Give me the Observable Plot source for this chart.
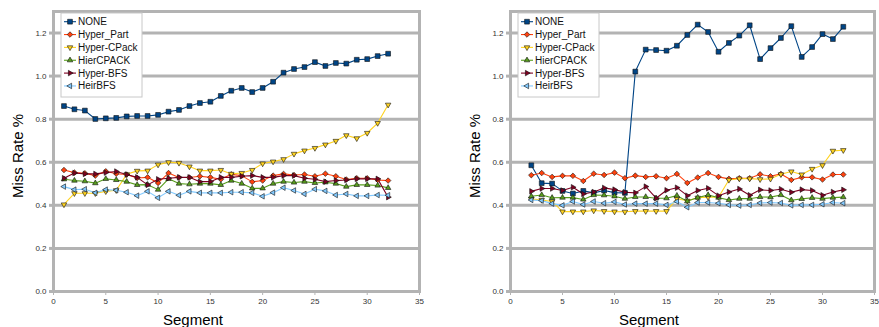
<!DOCTYPE html>
<html>
<head>
<meta charset="utf-8">
<script src="https://cdn.jsdelivr.net/npm/d3@7"></script>
<script src="https://cdn.jsdelivr.net/npm/@observablehq/plot@0.6"></script>
<style>
  html, body { margin: 0; padding: 0; background: #fff; }
  #wrap { display: flex; width: 879px; height: 327px; overflow: hidden; }
  .panel { position: relative; }
</style>
</head>
<body>
<div id="wrap"><div class="panel" id="left"></div><div class="panel" id="right"></div></div>
<script>
// ---- data ----
const seriesNames = ["NONE", "Hyper_Part", "Hyper-CPack", "HierCPACK", "Hyper-BFS", "HeirBFS"];
const seriesColors = ["#004586", "#ff420e", "#ffd320", "#579d1c", "#7e0021", "#83caff"];
const seriesSymbols = ["square", "diamond2", "triangle", "triangle", "triangle", "triangle"];
const seriesRotate = [0, 0, 180, 0, 90, -90];

const xTicks = [0, 5, 10, 15, 20, 25, 30, 35];
const yTicks = [0, 0.2, 0.4, 0.6, 0.8, 1.0, 1.2];

const segmentsLeft = [1,2,3,4,5,6,7,8,9,10,11,12,13,14,15,16,17,18,19,20,21,22,23,24,25,26,27,28,29,30,31,32];
const noneLeft  = [0.861,0.846,0.840,0.801,0.804,0.806,0.813,0.815,0.815,0.820,0.835,0.843,0.861,0.875,0.881,0.908,0.932,0.945,0.926,0.945,0.974,1.016,1.033,1.042,1.065,1.047,1.061,1.058,1.076,1.079,1.093,1.104];
const partLeft  = [0.564,0.552,0.549,0.538,0.558,0.547,0.543,0.527,0.530,0.504,0.550,0.529,0.529,0.535,0.530,0.521,0.544,0.538,0.509,0.515,0.538,0.546,0.541,0.543,0.535,0.547,0.535,0.520,0.526,0.526,0.518,0.515];
const cpackLeft = [0.404,0.456,0.456,0.456,0.465,0.470,0.544,0.560,0.561,0.589,0.600,0.597,0.580,0.561,0.561,0.564,0.546,0.550,0.564,0.594,0.603,0.614,0.639,0.654,0.666,0.682,0.699,0.725,0.711,0.736,0.782,0.867];
const hierLeft  = [0.521,0.515,0.512,0.503,0.523,0.518,0.510,0.495,0.496,0.473,0.523,0.501,0.498,0.501,0.501,0.495,0.515,0.501,0.479,0.479,0.501,0.510,0.506,0.510,0.504,0.507,0.501,0.487,0.495,0.495,0.492,0.481];
const bfsLeft   = [0.526,0.550,0.546,0.546,0.552,0.557,0.543,0.530,0.495,0.521,0.526,0.530,0.530,0.510,0.510,0.530,0.530,0.535,0.538,0.530,0.530,0.538,0.538,0.526,0.521,0.510,0.515,0.518,0.523,0.523,0.523,0.438];
const heirLeft  = [0.487,0.473,0.475,0.458,0.473,0.470,0.461,0.445,0.465,0.435,0.465,0.447,0.465,0.458,0.458,0.458,0.461,0.461,0.458,0.442,0.459,0.482,0.469,0.453,0.475,0.467,0.448,0.453,0.444,0.444,0.448,0.447];

const segmentsRight = [2,3,4,5,6,7,8,9,10,11,12,13,14,15,16,17,18,19,20,21,22,23,24,25,26,27,28,29,30,31,32];
const noneRight  = [0.586,0.503,0.501,0.467,0.455,0.467,0.458,0.469,0.459,0.458,1.021,1.123,1.121,1.118,1.141,1.191,1.239,1.205,1.113,1.154,1.188,1.236,1.079,1.130,1.177,1.232,1.089,1.135,1.195,1.172,1.229];
const partRight  = [0.540,0.550,0.532,0.537,0.537,0.513,0.547,0.541,0.552,0.526,0.538,0.532,0.535,0.526,0.546,0.504,0.529,0.550,0.532,0.523,0.526,0.526,0.544,0.535,0.546,0.518,0.530,0.530,0.520,0.543,0.543];
const cpackRight = [0.430,0.425,0.418,0.371,0.371,0.371,0.376,0.373,0.371,0.370,0.373,0.373,0.373,0.373,0.431,0.421,0.435,0.438,0.438,0.518,0.524,0.524,0.521,0.523,0.544,0.557,0.543,0.569,0.586,0.653,0.656];
const hierRight  = [0.442,0.448,0.435,0.436,0.436,0.427,0.448,0.447,0.442,0.431,0.439,0.439,0.433,0.433,0.445,0.419,0.436,0.448,0.436,0.425,0.431,0.431,0.439,0.438,0.448,0.424,0.430,0.435,0.431,0.436,0.438];
const bfsRight   = [0.465,0.478,0.478,0.469,0.484,0.453,0.462,0.481,0.473,0.461,0.458,0.487,0.433,0.470,0.482,0.445,0.469,0.479,0.445,0.462,0.476,0.447,0.472,0.469,0.475,0.461,0.473,0.469,0.447,0.462,0.472];
const heirRight  = [0.425,0.422,0.408,0.400,0.418,0.404,0.418,0.410,0.416,0.404,0.408,0.408,0.408,0.402,0.418,0.391,0.413,0.413,0.410,0.402,0.399,0.402,0.411,0.413,0.411,0.400,0.402,0.402,0.405,0.413,0.410];

const valuesLeft  = [noneLeft, partLeft, cpackLeft, hierLeft, bfsLeft, heirLeft];
const valuesRight = [noneRight, partRight, cpackRight, hierRight, bfsRight, heirRight];

// ---- drawing ----
const FONT = "'Liberation Sans', Arial, sans-serif";
const GRID = "#b3b3b3";
const symRadius = [2.7, 2.5, 2.05, 2.05, 2.05, 2.05];

function buildChart(el, width, ml, mr, segs, values) {
  const marks = [
    Plot.gridY(yTicks, {stroke: GRID, strokeWidth: 3, strokeOpacity: 1}),
    Plot.axisY(yTicks, {tickSize: 4, tickPadding: 3, stroke: GRID, strokeWidth: 3, fill: "#333", fontSize: 8, tickFormat: d3.format(".1f"), label: null}),
    Plot.axisX(xTicks, {tickSize: 4, tickPadding: 3, stroke: GRID, strokeWidth: 1, fill: "#333", fontSize: 8, label: null}),
    Plot.frame({stroke: GRID, strokeWidth: 3})
  ];
  values.forEach((vals, i) => {
    const rows = segs.map((s, j) => ({segment: s, rate: vals[j]}));
    marks.push(Plot.line(rows, {x: "segment", y: "rate", stroke: seriesColors[i], strokeWidth: 1.1}));
  });
  values.forEach((vals, i) => {
    const rows = segs.map((s, j) => ({segment: s, rate: vals[j]}));
    marks.push(Plot.dot(rows, {x: "segment", y: "rate", symbol: seriesSymbols[i], r: symRadius[i], fill: seriesColors[i], stroke: "#111", strokeWidth: 0.6, rotate: seriesRotate[i]}));
  });
  const svg = Plot.plot({
    width, height: 327,
    marginLeft: ml, marginRight: mr, marginTop: 11, marginBottom: 36,
    x: {domain: [0, 35]},
    y: {domain: [0, 1.3]},
    style: {fontFamily: FONT, background: "#fff", overflow: "visible"},
    marks
  });
  el.appendChild(svg);
  const s = d3.select(svg);
  // axis titles
  s.append("text").attr("x", ml - 43 + (width - ml - mr) / 2).attr("y", 325)
    .attr("text-anchor", "middle").attr("font-size", 15).attr("font-family", FONT).attr("fill", "#000").text("Segment");
  s.append("text").attr("transform", `translate(${ml - 30},156) rotate(-90)`)
    .attr("text-anchor", "middle").attr("font-size", 15).attr("font-family", FONT).attr("fill", "#000").text("Miss Rate %");
  // legend
  const lx = ml + 8, ly = 13;
  const g = s.append("g").attr("text-anchor", "start");
  g.append("rect").attr("x", lx).attr("y", ly).attr("width", 81).attr("height", 84)
    .attr("fill", "#fff").attr("stroke", "#c8c8c8").attr("stroke-width", 1);
  const symMap = {square: d3.symbolSquare, diamond2: d3.symbolDiamond2, triangle: d3.symbolTriangle};
  seriesNames.forEach((name, i) => {
    const cy = ly + 8.7 + i * 12.85;
    const cx = lx + 9;
    g.append("line").attr("x1", cx - 6).attr("x2", cx + 6).attr("y1", cy).attr("y2", cy)
      .attr("stroke", seriesColors[i]).attr("stroke-width", 1.1);
    g.append("path").attr("d", d3.symbol(symMap[seriesSymbols[i]], symRadius[i] * symRadius[i] * Math.PI)())
      .attr("transform", `translate(${cx},${cy}) rotate(${seriesRotate[i]})`)
      .attr("fill", seriesColors[i]).attr("stroke", "#111").attr("stroke-width", 0.6);
    g.append("text").attr("x", cx + 8).attr("y", cy).attr("dy", "0.35em").attr("text-anchor", "start")
      .attr("font-size", 10).attr("font-family", FONT).attr("fill", "#111").text(name);
  });
}

buildChart(document.getElementById("left"), 440, 53, 21, segmentsLeft, valuesLeft);
buildChart(document.getElementById("right"), 439, 70, 5, segmentsRight, valuesRight);
</script>
</body>
</html>
